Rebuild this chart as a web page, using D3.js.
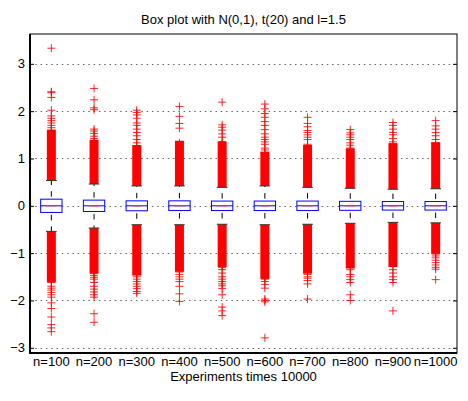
<!DOCTYPE html>
<html>
<head>
<meta charset="utf-8">
<script src="https://cdn.jsdelivr.net/npm/d3@7"></script>
<style>
  body { margin: 0; background: #fff; }
  text { font-family: "Liberation Sans", Arial, sans-serif; }
</style>
</head>
<body>
<svg id="Target" width="468" height="401"></svg>
<script>
const labels = ["n=100", "n=200", "n=300", "n=400", "n=500", "n=600", "n=700", "n=800", "n=900", "n=1000"];
const yTicks = [-3, -2, -1, 0, 1, 2, 3];

const q1 = [-0.14, -0.12, -0.105, -0.1, -0.1, -0.1, -0.1, -0.095, -0.09, -0.09];
const q3 = [0.14, 0.12, 0.105, 0.105, 0.1, 0.1, 0.1, 0.095, 0.09, 0.09];
const medians = [0, 0, 0, 0, 0, 0, 0, 0, 0, 0];
const upperCap = [0.535, 0.46, 0.42, 0.42, 0.39, 0.42, 0.39, 0.37, 0.35, 0.36];
const lowerCap = [-0.54, -0.47, -0.40, -0.40, -0.39, -0.40, -0.39, -0.37, -0.35, -0.36];

// solid red part of the outlier columns (markers overlap completely there)
const upperDense = [1.52, 1.31, 1.2, 1.29, 1.27, 1.06, 1.2, 1.13, 1.24, 1.26];
const lowerDense = [-1.53, -1.35, -1.39, -1.31, -1.21, -1.46, -1.35, -1.24, -1.21, -0.93];

// separate outliers above / below
const upperOut = [
  [1.55, 1.6, 1.65, 1.7, 1.75, 1.8, 1.85, 1.9, 2.02, 2.29, 2.39, 2.41, 3.33],
  [1.36, 1.42, 1.47, 1.53, 1.58, 1.62, 2.03, 2.07, 2.24, 2.48],
  [1.25, 1.33, 1.4, 1.48, 1.55, 1.62, 1.7, 1.75, 1.85, 1.92, 1.97, 2.02],
  [1.33, 1.64, 1.74, 1.89, 2.1],
  [1.32, 1.36, 1.45, 1.52, 1.6, 1.66, 1.71, 2.19],
  [1.12, 1.18, 1.22, 1.3, 1.35, 1.4, 1.45, 1.52, 1.61, 1.7, 1.78, 1.87, 1.95, 2.05, 2.15],
  [1.25, 1.3, 1.4, 1.45, 1.5, 1.55, 1.59, 1.67, 1.74, 1.87],
  [1.18, 1.22, 1.28, 1.33, 1.4, 1.45, 1.5, 1.54, 1.61],
  [1.3, 1.35, 1.42, 1.5, 1.55, 1.62, 1.7, 1.76],
  [1.32, 1.4, 1.48, 1.55, 1.62, 1.69, 1.8]
];
const lowerOut = [
  [-1.58, -1.62, -1.7, -1.74, -1.78, -1.83, -1.88, -1.93, -2.05, -2.17, -2.35, -2.51, -2.58, -2.66],
  [-1.42, -1.47, -1.51, -1.55, -1.62, -1.7, -1.76, -1.82, -1.88, -1.93, -2.28, -2.46],
  [-1.45, -1.5, -1.55, -1.6, -1.65, -1.7, -1.75, -1.81, -1.85],
  [-1.36, -1.4, -1.45, -1.5, -1.55, -1.6, -1.7, -1.86, -2.02],
  [-1.26, -1.3, -1.35, -1.42, -1.5, -1.55, -1.6, -1.65, -1.69, -1.75, -1.88, -2.14, -2.22, -2.32],
  [-1.5, -1.55, -1.6, -1.66, -1.74, -1.97, -2.0, -2.03, -2.79],
  [-1.4, -1.45, -1.5, -1.53, -1.58, -1.65, -1.97],
  [-1.3, -1.35, -1.45, -1.5, -1.56, -1.62, -1.88, -2.0],
  [-1.28, -1.35, -1.42, -1.5, -1.56, -1.62, -2.22],
  [-0.98, -1.02, -1.06, -1.1, -1.15, -1.2, -1.25, -1.3, -1.34, -1.56]
];

const plotLeft = 30, plotRight = 457, plotTop = 34, plotBottom = 353;
const fontSize = 13;
const svg = d3.select("#Target");

const x = d3.scaleBand().domain(labels).range([plotLeft, plotRight]).padding(0);
const y = d3.scaleLinear().domain([-3.11, 3.63]).range([plotBottom, plotTop]);
const cx = (d) => x(d) + x.bandwidth() / 2;
const boxW = x.bandwidth() * 0.5;
const capW = boxW * 0.5;
const mk = 4; // half size of the + markers

const groups = labels.map((name, i) => ({
  name, q1: q1[i], q3: q3[i], med: medians[i],
  hi: upperCap[i], lo: lowerCap[i],
  hiDense: upperDense[i], loDense: lowerDense[i],
  out: upperOut[i].concat(lowerOut[i])
}));

// grid
svg.append("g")
  .selectAll("line")
  .data(yTicks)
  .enter()
  .append("line")
  .attr("x1", plotLeft).attr("x2", plotRight)
  .attr("y1", d => Math.round(y(d)) + 0.5).attr("y2", d => Math.round(y(d)) + 0.5)
  .attr("stroke", "#666")
  .attr("stroke-width", 1)
  .attr("stroke-dasharray", "1.5 3.8");

const g = svg.selectAll("g.box")
  .data(groups)
  .enter()
  .append("g")
  .attr("class", "box");

// whiskers (dashed), drawn from the box outwards
g.append("path")
  .attr("d", d => `M${cx(d.name)},${y(d.q3)}V${y(d.hi)}`)
  .attr("stroke", "#000").attr("fill", "none")
  .attr("stroke-dasharray", "5.5 6").attr("stroke-dashoffset", 9);
g.append("path")
  .attr("d", d => `M${cx(d.name)},${y(d.q1)}V${y(d.lo)}`)
  .attr("stroke", "#000").attr("fill", "none")
  .attr("stroke-dasharray", "5.5 6").attr("stroke-dashoffset", 9);

// dense outlier columns
g.append("rect")
  .attr("x", d => cx(d.name) - mk - 0.5)
  .attr("width", 2 * mk + 1)
  .attr("y", d => y(d.hiDense) - mk)
  .attr("height", d => y(d.hi) - y(d.hiDense) + mk)
  .attr("fill", "#ff0000");
g.append("rect")
  .attr("x", d => cx(d.name) - mk - 0.5)
  .attr("width", 2 * mk + 1)
  .attr("y", d => y(d.lo))
  .attr("height", d => y(d.loDense) - y(d.lo) + mk)
  .attr("fill", "#ff0000");

// single outliers
g.selectAll("path.out")
  .data(d => d.out.map(v => ({ name: d.name, v })))
  .enter()
  .append("path")
  .attr("class", "out")
  .attr("d", d => {
    const px = cx(d.name), py = y(d.v);
    return `M${px - mk},${py}H${px + mk}M${px},${py - mk}V${py + mk}`;
  })
  .attr("stroke", "#ff0000")
  .attr("stroke-width", 1)
  .attr("stroke-opacity", 0.85)
  .attr("fill", "none");

// whisker caps
g.selectAll("line.cap")
  .data(d => [d.hi, d.lo].map(v => ({ name: d.name, v })))
  .enter()
  .append("line")
  .attr("class", "cap")
  .attr("x1", d => cx(d.name) - capW / 2).attr("x2", d => cx(d.name) + capW / 2)
  .attr("y1", d => y(d.v)).attr("y2", d => y(d.v))
  .attr("stroke", "#333").attr("stroke-width", 1);

// boxes
g.append("rect")
  .attr("x", d => cx(d.name) - boxW / 2)
  .attr("width", boxW)
  .attr("y", d => y(d.q3))
  .attr("height", d => y(d.q1) - y(d.q3))
  .attr("fill", "#fff")
  .attr("stroke", "#0000ff")
  .attr("stroke-width", 1);

// median: blue across the box, red in the middle
g.append("line")
  .attr("x1", d => cx(d.name) - boxW / 2).attr("x2", d => cx(d.name) + boxW / 2)
  .attr("y1", d => y(d.med)).attr("y2", d => y(d.med))
  .attr("stroke", "#0000ff").attr("stroke-width", 1);
g.append("line")
  .attr("x1", d => cx(d.name) - boxW / 4).attr("x2", d => cx(d.name) + boxW / 4)
  .attr("y1", d => y(d.med)).attr("y2", d => y(d.med))
  .attr("stroke", "#ff3030").attr("stroke-width", 1.2);

// frame
svg.append("rect")
  .attr("x", plotLeft).attr("y", plotTop)
  .attr("width", plotRight - plotLeft).attr("height", plotBottom - plotTop)
  .attr("fill", "none").attr("stroke", "#000").attr("stroke-width", 1);
svg.append("path")
  .attr("d", `M${plotLeft},${plotTop}V${plotBottom}H${plotRight}`)
  .attr("fill", "none").attr("stroke", "#000").attr("stroke-width", 2);

// y ticks inside on both sides
const yAxisL = d3.axisLeft(y).tickValues(yTicks).tickSize(-4).tickPadding(5).tickFormat(d3.format("d"));
const yAxisR = d3.axisRight(y).tickValues(yTicks).tickSize(-4).tickFormat("");
const gl = svg.append("g").attr("transform", `translate(${plotLeft},0)`).call(yAxisL);
const gr = svg.append("g").attr("transform", `translate(${plotRight},0)`).call(yAxisR);
[gl, gr].forEach(a => {
  a.select(".domain").remove();
  a.selectAll("line").attr("stroke", "#000");
});
gl.selectAll("text").attr("font-size", fontSize).attr("fill", "#000")
  .style("font-family", "'Liberation Sans', Arial, sans-serif");

// x labels
const xAxis = d3.axisBottom(x).tickSize(0).tickPadding(4);
const gx = svg.append("g").attr("transform", `translate(0,${plotBottom})`).call(xAxis);
gx.select(".domain").remove();
gx.selectAll("text").attr("font-size", fontSize).attr("fill", "#000")
  .style("font-family", "'Liberation Sans', Arial, sans-serif");

svg.append("text")
  .attr("x", (plotLeft + plotRight) / 2).attr("y", 381)
  .attr("text-anchor", "middle").attr("font-size", fontSize)
  .text("Experiments times 10000");

svg.append("text")
  .attr("x", (plotLeft + plotRight) / 2).attr("y", 24)
  .attr("text-anchor", "middle").attr("font-size", fontSize)
  .text("Box plot with N(0,1), t(20) and l=1.5");
</script>
</body>
</html>
